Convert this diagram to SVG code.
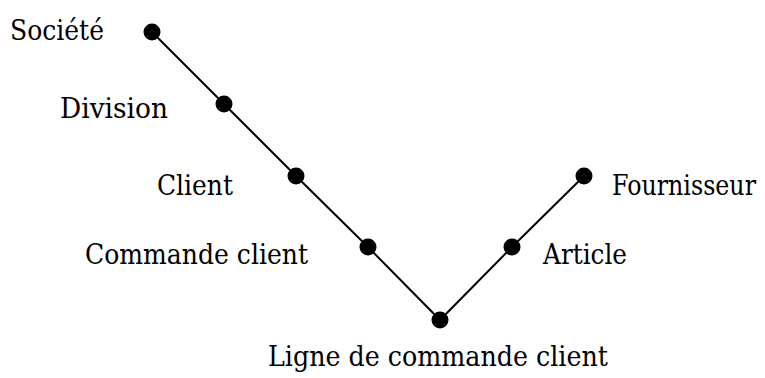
<svg xmlns="http://www.w3.org/2000/svg" width="765" height="378" viewBox="0 0 765 378">
<style>
.lbl{font-family:'DejaVu Serif','Liberation Serif',serif;font-size:28.5px;fill:#000}
.dot{fill:#000}
.edge{stroke:#000;stroke-width:2;fill:none}
</style>
<rect width="765" height="378" fill="#fff"/>
<g id="connectors">
<polyline class="edge" points="152,32 224,104 296,176 368,247 440,320 512,247 584,176"/>
</g>
<g id="societe"><circle class="dot" cx="152" cy="32" r="8.5"/><text class="lbl" x="10" y="40" textLength="94" lengthAdjust="spacingAndGlyphs">Société</text></g>
<g id="division"><circle class="dot" cx="224" cy="104" r="8.5"/><text class="lbl" x="60" y="118" textLength="108" lengthAdjust="spacingAndGlyphs">Division</text></g>
<g id="client"><circle class="dot" cx="296" cy="176" r="8.5"/><text class="lbl" x="157" y="195" textLength="76" lengthAdjust="spacingAndGlyphs">Client</text></g>
<g id="commande-client"><circle class="dot" cx="368" cy="247" r="8.5"/><text class="lbl" x="85" y="264" textLength="223" lengthAdjust="spacingAndGlyphs">Commande client</text></g>
<g id="ligne-commande-client"><circle class="dot" cx="440" cy="320" r="8.5"/><text class="lbl" x="268" y="366" textLength="340" lengthAdjust="spacingAndGlyphs">Ligne de commande client</text></g>
<g id="article"><circle class="dot" cx="512" cy="247" r="8.5"/><text class="lbl" x="543" y="264" textLength="84" lengthAdjust="spacingAndGlyphs">Article</text></g>
<g id="fournisseur"><circle class="dot" cx="584" cy="176" r="8.5"/><text class="lbl" x="756" y="195" text-anchor="end" textLength="144" lengthAdjust="spacingAndGlyphs">Fournisseur</text></g>
</svg>
